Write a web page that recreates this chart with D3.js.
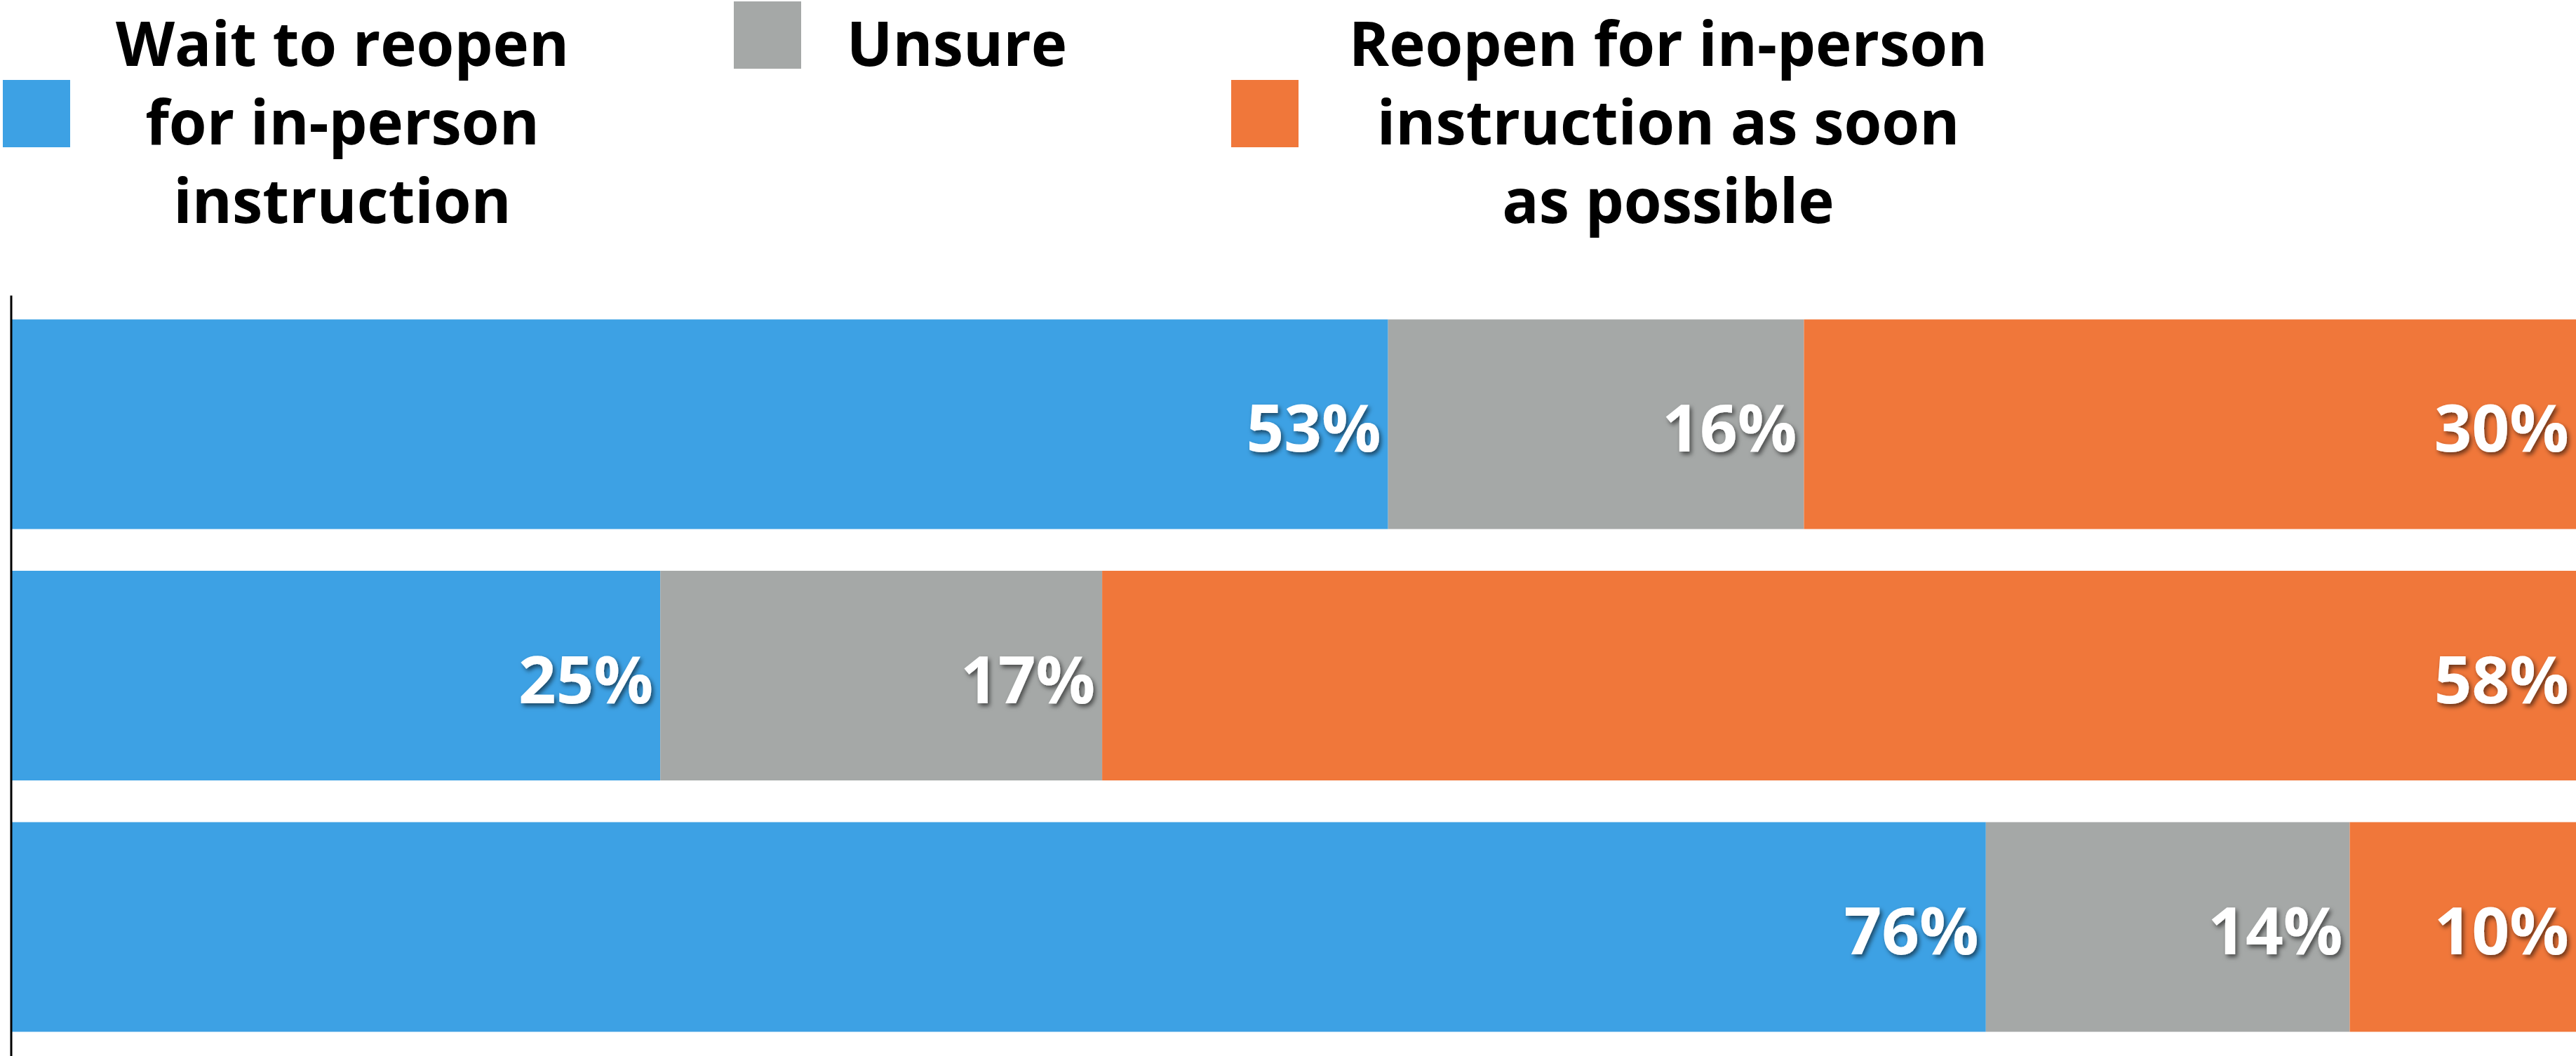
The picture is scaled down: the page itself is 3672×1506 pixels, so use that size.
<!DOCTYPE html>
<html>
<head>
<meta charset="utf-8">
<script src="https://cdn.jsdelivr.net/npm/d3@7"></script>
<style>
html,body{margin:0;padding:0;background:#fff;overflow:hidden;}
svg{display:block;}
</style>
</head>
<body>
<div id="chart"></div>
<script>
// ---- data ----
const categories = ["Row 1", "Row 2", "Row 3"];
const seriesKeys = ["wait", "unsure", "reopen"];
const waitValues = [53, 25, 76];
const unsureValues = [16, 17, 14];
const reopenValues = [30, 58, 10];
const legendLines = [
  ["Wait to reopen", "for in-person", "instruction"],
  ["Unsure"],
  ["Reopen for in-person", "instruction as soon", "as possible"]
];
const seriesColors = ["#3DA1E4", "#A5A8A7", "#F0773A"];

// ---- layout ----
const W = 3672, H = 1506;
const svg = d3.select("#chart").append("svg").attr("width", W).attr("height", H);

const defs = svg.append("defs");
const f = defs.append("filter").attr("id", "shadow").attr("x", "-20%").attr("y", "-30%").attr("width", "150%").attr("height", "170%");
f.append("feDropShadow").attr("dx", 3).attr("dy", 4).attr("stdDeviation", 3)
  .attr("flood-color", "#000").attr("flood-opacity", 0.55);

const table = categories.map((c, i) => ({cat: c, wait: waitValues[i], unsure: unsureValues[i], reopen: reopenValues[i]}));
const stacked = d3.stack().keys(seriesKeys)(table);

const x = d3.scaleLinear().domain([0, 100]).range([15, 3720]);
const y = d3.scaleBand().domain(categories).range([421, 1506]).paddingInner(0.166).paddingOuter(0.0963);
const color = d3.scaleOrdinal().domain(seriesKeys).range(seriesColors);

const layers = svg.append("g").selectAll("g").data(stacked).join("g").attr("fill", d => color(d.key));
layers.selectAll("rect").data(d => d.map(v => ({v, key: d.key}))).join("rect")
  .attr("x", d => x(d.v[0]))
  .attr("y", d => y(d.v.data.cat))
  .attr("width", d => x(d.v[1]) - x(d.v[0]))
  .attr("height", y.bandwidth());

// value labels
const labG = svg.append("g");
stacked.forEach(layer => {
  labG.selectAll(null).data(layer).join("text")
    .attr("x", d => Math.min(x(d[1]), W) - 10)
    .attr("y", d => y(d.data.cat) + y.bandwidth() / 2)
    .attr("dy", "0.42em")
    .attr("text-anchor", "end")
    .attr("fill", "#fff")
    .attr("font-family", "'Open Sans', sans-serif")
    .attr("font-weight", 700)
    .attr("font-size", 94)
    .attr("filter", "url(#shadow)")
    .text(d => (d[1] - d[0]) + "%");
});

// axis line
const axisG = svg.append("g").attr("transform", "translate(15.5,0)")
  .call(d3.axisLeft(y).tickSize(0).tickSizeOuter(0).tickFormat(""));
axisG.select(".domain").attr("stroke", "#000").attr("stroke-width", 3);

// legend
const legendX = [4, 1046, 1755];
const textCenters = [488, 1364, 2378];
const lineH = 112, firstBase = 94, sw = 96;
const leg = svg.append("g");
seriesKeys.forEach((k, i) => {
  const n = legendLines[i].length;
  const blockCenter = n * lineH / 2 - 6;
  leg.append("rect").attr("x", legendX[i]).attr("y", blockCenter - sw / 2)
    .attr("width", sw).attr("height", sw).attr("fill", color(k));
  const t = leg.append("text")
    .attr("text-anchor", "middle")
    .attr("font-family", "'Open Sans', sans-serif")
    .attr("font-weight", 700)
    .attr("font-size", 87)
    .attr("fill", "#000");
  legendLines[i].forEach((line, j) => {
    t.append("tspan").attr("x", textCenters[i]).attr("y", firstBase + j * lineH).text(line);
  });
});
</script>
</body>
</html>
